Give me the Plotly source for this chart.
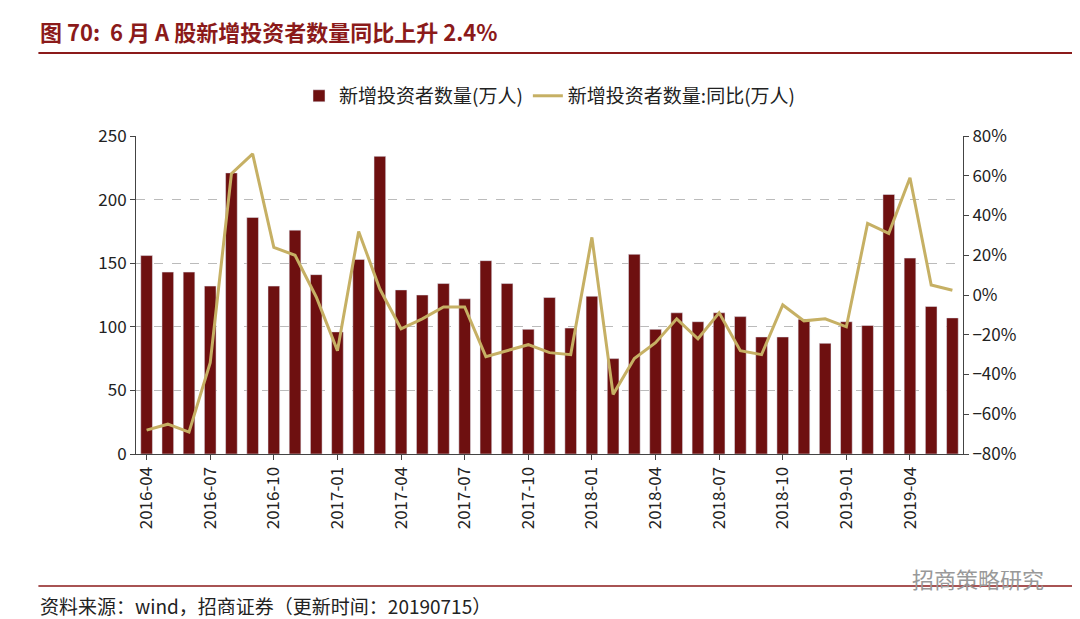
import plotly.graph_objects as go

months = [f"{y}-{m:02d}" for y, m in
          [(2016, m) for m in range(4, 13)] + [(2017, m) for m in range(1, 13)] +
          [(2018, m) for m in range(1, 13)] + [(2019, m) for m in range(1, 7)]]

new_investors = [156, 143, 143, 132, 221, 186, 132, 176, 141,
                 96, 153, 234, 129, 125, 134, 122, 152, 134, 98, 123, 99,
                 124, 75, 157, 98, 111, 104, 111, 108, 92, 92, 106, 87,
                 104, 101, 204, 154, 116, 107]
yoy_pct = [-68, -65, -69, -34, 61, 71, 24, 20, -1,
           -28, 32, 3, -17, -12, -6, -6, -31, -28, -25, -29, -30,
           29, -50, -32, -24, -12, -22, -9, -28, -30, -5, -13, -12,
           -16, 36, 31, 59, 5, 2.4]
tick_months = months[::3]

FONT = "Noto Sans CJK SC"
fig = go.Figure()
fig.add_trace(go.Bar(x=months, y=new_investors, name="新增投资者数量(万人)",
                     marker_color="#6e1010", width=0.55))
fig.add_trace(go.Scatter(x=months, y=yoy_pct, name="新增投资者数量:同比(万人)",
                         yaxis="y2", mode="lines",
                         line=dict(color="#c6b064", width=3)))

fig.update_layout(
    width=1080, height=619,
    margin=dict(l=128, r=125, t=128, b=173, autoexpand=False),
    plot_bgcolor="white", paper_bgcolor="white",
    font=dict(family=FONT, size=17, color="#222"),
    showlegend=True,
    legend=dict(orientation="h", x=0.5, xanchor="center", y=1.126, yanchor="middle",
                font=dict(size=19)),
    xaxis=dict(type="category", tickvals=tick_months, ticktext=tick_months,
               tickangle=-90, showline=True, linecolor="#444", ticks="outside",
               tickcolor="#444", ticklen=5),
    yaxis=dict(range=[0, 250], dtick=50, showgrid=True, gridcolor="#bbb",
               griddash="dash", zeroline=False, showline=True, linecolor="#444",
               ticks="outside", tickcolor="#444"),
    yaxis2=dict(range=[-80, 80], dtick=20, overlaying="y", side="right",
                ticksuffix="%", showgrid=False, zeroline=False, showline=True,
                linecolor="#444", ticks="outside", tickcolor="#444"),
    shapes=[
        dict(type="line", xref="paper", yref="paper", x0=-0.118, x1=1.15,
             y0=1.261, y1=1.261, line=dict(color="#8b1a1a", width=2)),
        dict(type="line", xref="paper", yref="paper", x0=-0.118, x1=1.15,
             y0=-0.415, y1=-0.415, line=dict(color="#8b1a1a", width=1.5)),
    ],
    annotations=[
        dict(text="<b>图 70:  6 月 A 股新增投资者数量同比上升 2.4%</b>",
             xref="paper", yref="paper", x=-0.118, y=1.33, xanchor="left",
             yanchor="middle", showarrow=False,
             font=dict(size=22, color="#8b1a1a")),
        dict(text="资料来源：wind，招商证券（更新时间：20190715）",
             xref="paper", yref="paper", x=-0.118, y=-0.475, xanchor="left",
             yanchor="middle", showarrow=False, font=dict(size=19, color="#222")),
        dict(text="招商策略研究", xref="paper", yref="paper", x=1.1, y=-0.39,
             xanchor="right", yanchor="middle", showarrow=False,
             font=dict(size=22, color="#999")),
    ],
)

fig.write_html("out.html")
